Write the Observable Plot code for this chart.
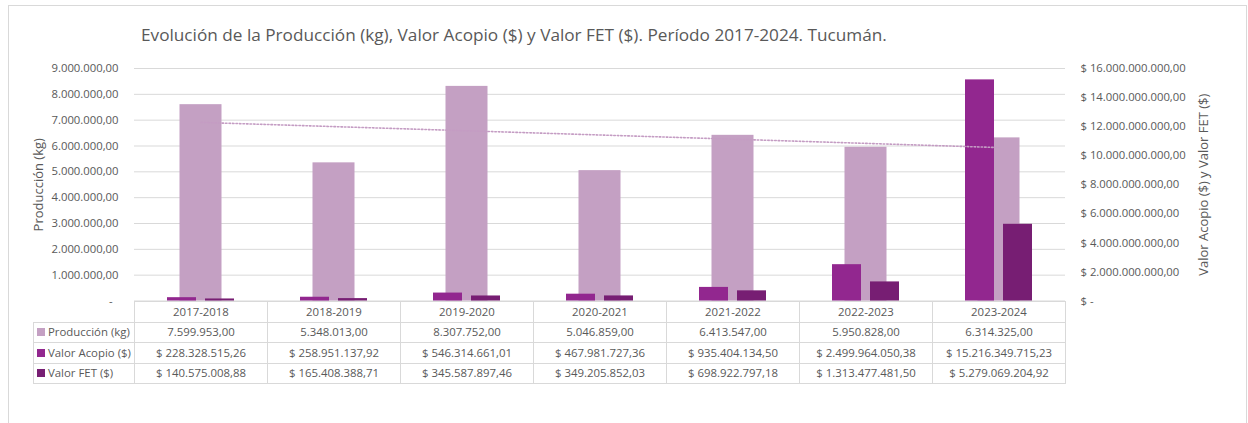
<!DOCTYPE html>
<html><head><meta charset="utf-8">
<script src="https://cdn.jsdelivr.net/npm/d3@7"></script>
<script src="https://cdn.jsdelivr.net/npm/@observablehq/plot@0.6"></script>
<style>
body{margin:0;background:#fff;font-family:"Open Sans",sans-serif;color:#595959;}
#wrap{position:relative;width:1248px;height:423px;overflow:hidden;background:#fff;}
#frame{position:absolute;left:8px;top:5px;width:1239px;height:460px;border:1px solid #d9d9d9;box-sizing:border-box;}
#title{position:absolute;left:141px;top:24px;font-size:17.2px;line-height:22px;white-space:nowrap;color:#595959;}
#chart{position:absolute;left:0;top:0;}
#tbl{position:absolute;left:33px;top:301px;border-collapse:collapse;table-layout:fixed;font-size:11.4px;color:#595959;}
#tbl td{border:1px solid #d9d9d9;height:19.5px;padding:0;text-align:center;white-space:nowrap;line-height:18px;}
#tbl td.leg{text-align:left;padding-left:3px;}
#tbl td.empty{border:none;}
.sw{display:inline-block;width:8px;height:8px;margin-right:3px;vertical-align:-0px;}
</style>
</head><body>
<div id="wrap">
  <div id="frame"></div>
  <div id="title"></div>
  <div id="chart"></div>
  <table id="tbl"></table>
</div>
<script>
const titleText = "Evolución de la Producción (kg), Valor Acopio ($) y Valor FET ($). Período 2017-2024. Tucumán.";
const categories = ["2017-2018","2018-2019","2019-2020","2020-2021","2021-2022","2022-2023","2023-2024"];
const produccion = [7599953.00, 5348013.00, 8307752.00, 5046859.00, 6413547.00, 5950828.00, 6314325.00];
const valorAcopio = [228328515.26, 258951137.92, 546314661.01, 467981727.36, 935404134.50, 2499964050.38, 15216349715.23];
const valorFET = [140575008.88, 165408388.71, 345587897.46, 349205852.03, 698922797.18, 1313477481.50, 5279069204.92];
const seriesNames = ["Producción (kg)", "Valor Acopio ($)", "Valor FET ($)"];
const seriesColors = ["#c4a0c3", "#92278f", "#771e73"];
const leftTicks = [0, 1e6, 2e6, 3e6, 4e6, 5e6, 6e6, 7e6, 8e6, 9e6];
const rightTicks = [0, 2e9, 4e9, 6e9, 8e9, 10e9, 12e9, 14e9, 16e9];
const leftTitle = "Producción (kg)";
const rightTitle = "Valor Acopio ($) y Valor FET ($)";

const loc = d3.formatLocale({decimal: ",", thousands: ".", grouping: [3], currency: ["$ ", ""]});
const fNum = loc.format(",.2f");
const fmtLeft = v => v === 0 ? "-\u00a0\u00a0" : fNum(v);
const fmtMoney = v => v === 0 ? "$ -" : "$ " + fNum(v);

const ratio = leftTicks[leftTicks.length - 1] / rightTicks[rightTicks.length - 1];
const rows = categories.map((c, i) => ({cat: c, i, prod: produccion[i], acopio: valorAcopio[i], fet: valorFET[i]}));

document.getElementById("title").textContent = titleText;

const chart = Plot.plot({
  width: 1248, height: 320,
  marginLeft: 134, marginRight: 183, marginTop: 68, marginBottom: 19.5,
  style: {fontFamily: "Open Sans", fontSize: "11.3px", color: "#595959", background: "transparent", overflow: "visible"},
  x: {domain: [0, categories.length], axis: null},
  y: {domain: [0, leftTicks[leftTicks.length - 1]]},
  marks: [
    Plot.gridY(leftTicks, {stroke: "#d9d9d9", strokeOpacity: 1, strokeWidth: 1}),
    Plot.axisY({anchor: "left", ticks: leftTicks, tickSize: 0, tickPadding: 16, tickFormat: fmtLeft, label: null}),
    Plot.axisY({anchor: "right", ticks: rightTicks.map(v => v * ratio), tickSize: 0, tickPadding: 15,
      tickFormat: d => fmtMoney(Math.round(d / ratio)), label: null}),
    Plot.text([leftTitle], {frameAnchor: "left", textAnchor: "middle", rotate: -90, dx: -96, fontSize: 13, fill: "#595959", text: d => d}),
    Plot.text([rightTitle], {frameAnchor: "right", textAnchor: "middle", rotate: -90, dx: 138, fontSize: 13, fill: "#595959", text: d => d}),
    Plot.rectY(rows, {x1: "i", x2: d => d.i + 1, y: "prod", fill: seriesColors[0], insetLeft: 45.5, insetRight: 45.5}),
    Plot.rectY(rows, {x1: "i", x2: d => d.i + 1, y: d => d.acopio * ratio, fill: seriesColors[1], insetLeft: 33, insetRight: 71}),
    Plot.rectY(rows, {x1: "i", x2: d => d.i + 1, y: d => d.fet * ratio, fill: seriesColors[2], insetLeft: 71, insetRight: 33}),
    Plot.linearRegressionY(rows, {x: d => d.i + 0.5, y: "prod", ci: 0, stroke: "#c49cc3", strokeWidth: 1.6, strokeDasharray: "1.5,2"})
  ]
});
document.getElementById("chart").appendChild(chart);

// data table
const tbl = document.getElementById("tbl");
const cg = document.createElement("colgroup");
[101, ...categories.map(() => 133)].forEach(w => { const c = document.createElement("col"); c.style.width = w + "px"; cg.appendChild(c); });
tbl.appendChild(cg);
const hr = document.createElement("tr");
const e = document.createElement("td"); e.className = "empty"; hr.appendChild(e);
categories.forEach(c => { const td = document.createElement("td"); td.textContent = c; hr.appendChild(td); });
tbl.appendChild(hr);
const seriesVals = [produccion.map(v => fNum(v)), valorAcopio.map(fmtMoney), valorFET.map(fmtMoney)];
seriesNames.forEach((name, s) => {
  const tr = document.createElement("tr");
  const lg = document.createElement("td"); lg.className = "leg";
  const sw = document.createElement("span"); sw.className = "sw"; sw.style.background = seriesColors[s];
  lg.appendChild(sw); lg.appendChild(document.createTextNode(name));
  tr.appendChild(lg);
  seriesVals[s].forEach(v => { const td = document.createElement("td"); td.textContent = v; tr.appendChild(td); });
  tbl.appendChild(tr);
});
</script>
</body></html>
